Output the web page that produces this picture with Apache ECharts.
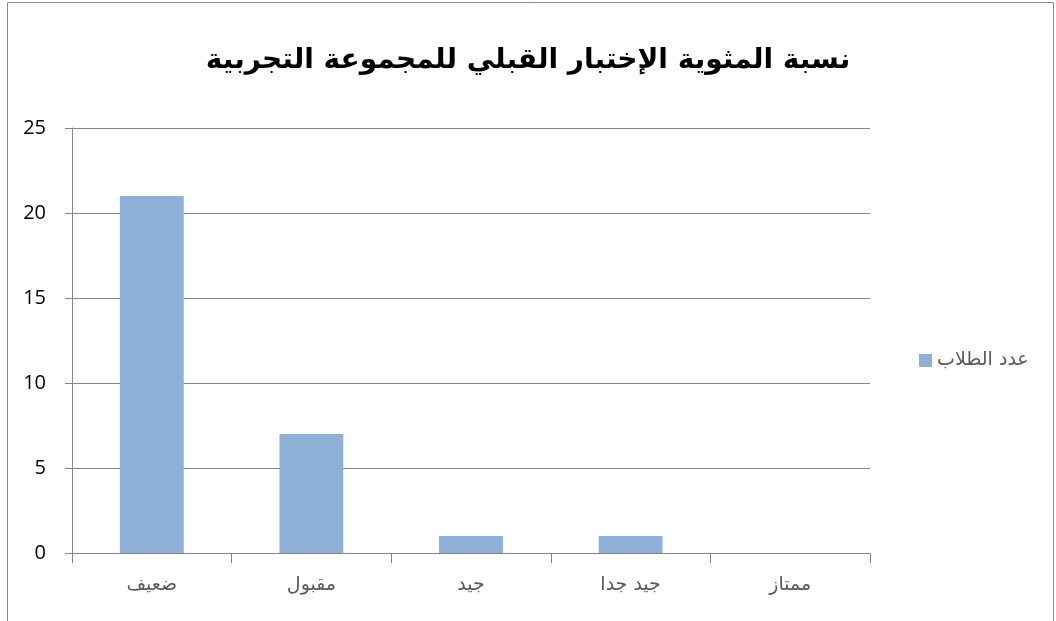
<!DOCTYPE html>
<html>
<head>
<meta charset="utf-8">
<script src="https://cdn.jsdelivr.net/npm/echarts@6/dist/echarts.min.js"></script>
<style>html,body{margin:0;padding:0;background:#fff}#c{width:1056px;height:621px}</style>
</head>
<body>
<div id="c"></div>
<script>
var titleText = 'نسبة المثوية الإختبار القبلي للمجموعة التجربية';
var categories = ['ضعيف', 'مقبول', 'جيد', 'جيد جدا', 'ممتاز'];
var seriesName = 'عدد الطلاب';
var values = [21, 7, 1, 1, 0];
var yTicks = [0, 5, 10, 15, 20, 25];

var chart = echarts.init(document.getElementById('c'), null, {renderer: 'canvas'});
chart.setOption({
  animation: false,
  backgroundColor: '#ffffff',
  title: {
    text: titleText,
    left: 'center',
    top: 42,
    textStyle: {fontFamily: 'DejaVu Serif, DejaVu Sans', fontWeight: 'bold', fontSize: 28, color: '#000'}
  },
  graphic: [{
    type: 'rect', left: 5, top: 0,
    shape: {width: 1046, height: 619},
    style: {fill: 'none', stroke: '#8c8c8c', lineWidth: 1}
  }],
  legend: {
    left: 914, top: 346,
    icon: 'rect', itemWidth: 13, itemHeight: 13, itemGap: 6,
    textStyle: {fontFamily: 'DejaVu Sans', fontSize: 19, color: '#595959'},
    data: [seriesName]
  },
  grid: {left: 72, right: 186, top: 128, bottom: 68},
  xAxis: {
    type: 'category',
    data: categories,
    axisLine: {show: true, lineStyle: {color: '#868686', width: 1}},
    axisTick: {show: true, length: 10, interval: 0, lineStyle: {color: '#868686'}},
    axisLabel: {margin: 23, fontFamily: 'DejaVu Sans', fontSize: 19, color: '#595959'}
  },
  yAxis: {
    type: 'value',
    min: yTicks[0], max: yTicks[yTicks.length - 1], interval: 5,
    axisLine: {show: true, lineStyle: {color: '#868686', width: 1}},
    axisTick: {show: true, length: 7, lineStyle: {color: '#868686'}},
    axisLabel: {margin: 26, fontFamily: 'Open Sans, Liberation Sans', fontSize: 20, color: '#000'},
    splitLine: {show: true, lineStyle: {color: '#868686', width: 1}}
  },
  series: [{
    name: seriesName,
    type: 'bar',
    data: values,
    barWidth: '40%',
    itemStyle: {color: '#8eb0d6'}
  }]
});
</script>
</body>
</html>
